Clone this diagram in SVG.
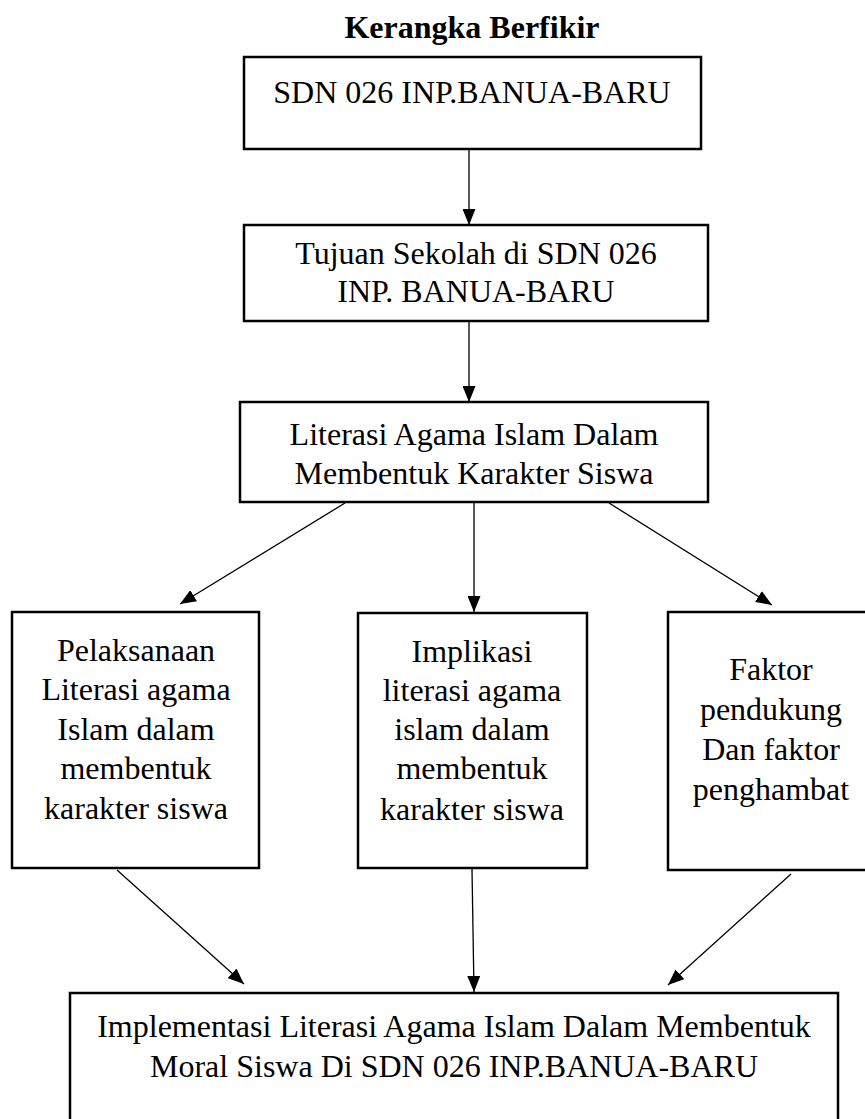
<svg xmlns="http://www.w3.org/2000/svg" width="865" height="1119" viewBox="0 0 865 1119">
  <defs>
    <style>
      .box { fill: #ffffff; stroke: #000000; stroke-width: 2.5; }
      .t { font-family: "Liberation Serif", "Times New Roman", serif; font-size: 32px; fill: #000000; text-anchor: middle; }
      .title { font-family: "Liberation Serif", "Times New Roman", serif; font-size: 32px; font-weight: bold; fill: #000000; text-anchor: middle; }
      .conn { stroke: #000000; stroke-width: 1.3; fill: none; marker-end: url(#arrow); }
    </style>
    <marker id="arrow" markerUnits="userSpaceOnUse" markerWidth="16" markerHeight="13" refX="16" refY="6.5" orient="auto">
      <path d="M0,0 L16,6.5 L0,13 z" fill="#000000"/>
    </marker>
  </defs>
  <rect width="865" height="1119" fill="#ffffff"/>

  <text class="title" x="472" y="38">Kerangka Berfikir</text>

  <g id="connectors">
    <line class="conn" x1="469" y1="150" x2="469" y2="225"/>
    <line class="conn" x1="469" y1="322" x2="469" y2="402"/>
    <line class="conn" x1="345" y1="503" x2="180" y2="604"/>
    <line class="conn" x1="474" y1="503" x2="474" y2="612"/>
    <line class="conn" x1="609" y1="503" x2="772" y2="605"/>
    <line class="conn" x1="117" y1="870" x2="244" y2="984"/>
    <line class="conn" x1="472" y1="869" x2="474" y2="992"/>
    <line class="conn" x1="791" y1="874" x2="668" y2="985"/>
  </g>

  <g id="node-sdn">
    <rect class="box" x="244" y="57" width="457" height="92"/>
    <text class="t" x="472" y="103">SDN 026 INP.BANUA-BARU</text>
  </g>

  <g id="node-tujuan">
    <rect class="box" x="244" y="225" width="464" height="96"/>
    <text class="t" x="476" y="264">Tujuan Sekolah di SDN 026</text>
    <text class="t" x="476" y="302">INP. BANUA-BARU</text>
  </g>

  <g id="node-literasi">
    <rect class="box" x="240" y="402" width="468" height="100"/>
    <text class="t" x="474" y="445">Literasi Agama Islam Dalam</text>
    <text class="t" x="474" y="484">Membentuk Karakter Siswa</text>
  </g>

  <g id="node-pelaksanaan">
    <rect class="box" x="12" y="612" width="247" height="256"/>
    <text class="t" x="136" y="661">Pelaksanaan</text>
    <text class="t" x="136" y="700">Literasi agama</text>
    <text class="t" x="136" y="740">Islam dalam</text>
    <text class="t" x="136" y="779">membentuk</text>
    <text class="t" x="136" y="819">karakter siswa</text>
  </g>

  <g id="node-implikasi">
    <rect class="box" x="358" y="613" width="229" height="255"/>
    <text class="t" x="472" y="662">Implikasi</text>
    <text class="t" x="472" y="701">literasi agama</text>
    <text class="t" x="472" y="740">islam dalam</text>
    <text class="t" x="472" y="779">membentuk</text>
    <text class="t" x="472" y="820">karakter siswa</text>
  </g>

  <g id="node-faktor">
    <rect class="box" x="668" y="612" width="207" height="258"/>
    <text class="t" x="771" y="680">Faktor</text>
    <text class="t" x="771" y="720">pendukung</text>
    <text class="t" x="771" y="760">Dan faktor</text>
    <text class="t" x="771" y="800">penghambat</text>
  </g>

  <g id="node-implementasi">
    <rect class="box" x="70" y="993" width="768" height="140"/>
    <text class="t" x="454" y="1037">Implementasi Literasi Agama Islam Dalam Membentuk</text>
    <text class="t" x="454" y="1077">Moral Siswa Di SDN 026 INP.BANUA-BARU</text>
  </g>
</svg>
